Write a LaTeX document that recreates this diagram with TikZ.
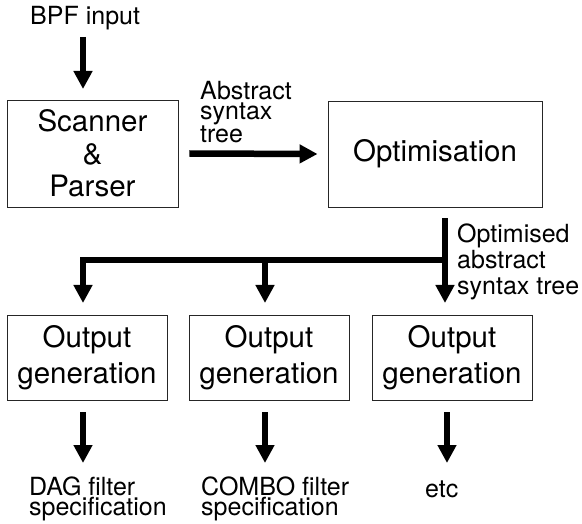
\documentclass[tikz,border=0pt]{standalone}
\usepackage{fontspec}
\setmainfont{TeX Gyre Heros}
\usetikzlibrary{arrows.meta}
\tikzset{
  stage/.style={draw=black!85, line width=0.9pt, inner sep=0pt, align=center,
    font=\fontsize{29.5}{32.5}\selectfont},
  lbl/.style={inner sep=0pt, align=left, anchor=base west,
    font=\fontsize{25}{20.5}\selectfont},
  flow/.style={line width=6.5pt, -{Triangle[width=18pt,length=18pt]}}
}
\begin{document}
\begin{tikzpicture}[x=1pt, y=-1pt]
    \useasboundingbox (0,0) rectangle (582,524);
    % stages
    \node[stage, minimum width=171pt, minimum height=107pt] (scan) at (92.5,153.5) {Scanner\\\&\\Parser};
    \node[stage, minimum width=214pt, minimum height=106pt] (opt) at (435,154) {Optimisation};
    \foreach \i/\x in {1/87, 2/269, 3/452}
        \node[stage, minimum width=160pt, minimum height=85pt,
              font=\fontsize{29.5}{36}\selectfont] (gen\i) at (\x,357.5) {Output\\generation};
    % labels (base = last line)
    \node[lbl] (bpf) at (30,25) {BPF input};
    \node[lbl] (ast) at (200,143) {Abstract\\syntax\\tree};
    \node[lbl, font=\fontsize{25}{26.5}\selectfont] (oast) at (457,295) {Optimised\\abstract\\syntax tree};
    \node[lbl, font=\fontsize{25}{18}\selectfont] (dag) at (29,515) {DAG filter\\specification};
    \node[lbl, font=\fontsize{25}{18}\selectfont] (combo) at (201,515) {COMBO filter\\specification};
    \node[lbl] (etc) at (425,497) {etc};
    % arrow ends
    \coordinate (in0) at (83,37);
    \coordinate (in1) at (83,89);
    \coordinate (split) at (445,260);
    \coordinate (top1) at (83,303);
    \coordinate (top2) at (265,303);
    \coordinate (top3) at (445,303);
    \foreach \i/\x in {1/83, 2/265, 3/447} {
        \coordinate (from\i) at (\x,412);
        \coordinate (to\i) at (\x,463);
    }
    % connectors
    \draw[flow] (in0) -- (in1);
    \draw[flow] ([xshift=11pt]scan.east) -- ([xshift=-10pt]opt.west);
    \draw[flow] (opt.south -| split) ++(0,11) -- (top3);
    \draw[flow] (split) -| (top1);
    \draw[flow] (split -| top2) -- (top2);
    \foreach \i in {1,2,3}
        \draw[flow] (from\i) -- (to\i);
\end{tikzpicture}
\end{document}
